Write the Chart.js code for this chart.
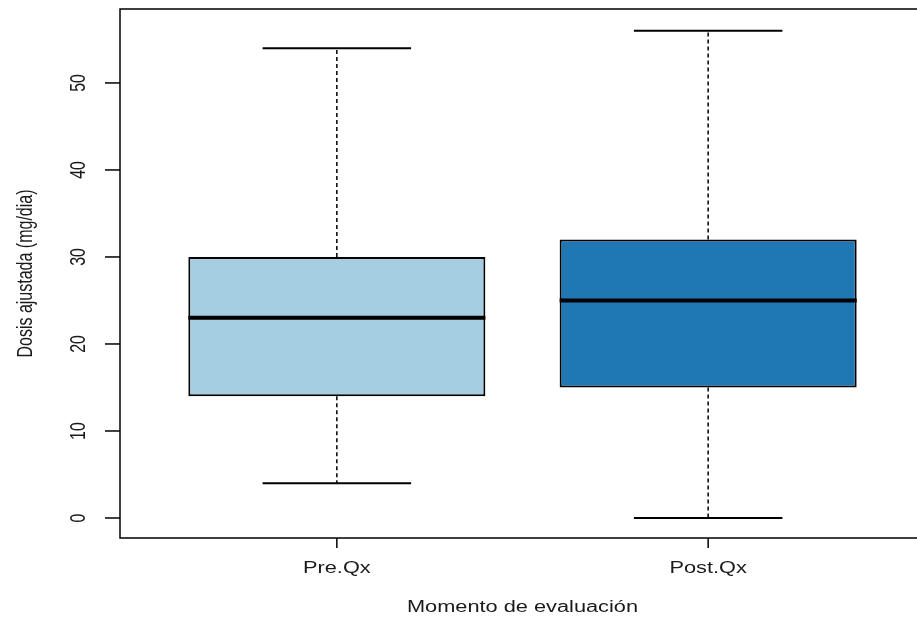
<!DOCTYPE html>
<html>
<head>
<meta charset="utf-8">
<script src="https://cdn.jsdelivr.net/npm/chart.js@4/dist/chart.umd.min.js"></script>
<style>
  html, body { margin: 0; padding: 0; background: #fff; overflow: hidden; }
  #wrap { width: 917px; height: 618px; overflow: hidden; }
</style>
</head>
<body>
<div id="wrap"><canvas id="box" width="940" height="618"></canvas></div>
<script>
// boxplot summary per group
const groups = ['Pre.Qx', 'Post.Qx'];
const whiskerLow = [4, 0];
const q1 = [14, 15];
const medians = [23, 25];
const q3 = [30, 32];
const whiskerHigh = [54, 56];
const boxColors = ['#A6CEE3', '#1F78B4'];
const yTicks = [0, 10, 20, 30, 40, 50];

const yTitle = 'Dosis ajustada (mg/dia)';
const xTitle = 'Momento de evaluación';
const font = '16px "Liberation Sans", Arial, sans-serif';
const stretch = 1.36; // the source picture is widened sideways

// R style: box width 0.8, staple width 0.4 of a category
const boxHalf = 0.4, capHalf = 0.2;

let medianPts = [], whiskerPts = [], capPts = [];
groups.forEach((g, i) => {
    const x = i + 1;
    medianPts.push({x: x - boxHalf, y: medians[i]}, {x: x + boxHalf, y: medians[i]}, {x: x + 0.5, y: null});
    whiskerPts.push({x: x, y: q3[i]}, {x: x, y: whiskerHigh[i]}, {x: x, y: null},
                    {x: x, y: q1[i]}, {x: x, y: whiskerLow[i]}, {x: x + 0.5, y: null});
    capPts.push({x: x - capHalf, y: whiskerHigh[i]}, {x: x + capHalf, y: whiskerHigh[i]}, {x: x + 0.5, y: null},
                {x: x - capHalf, y: whiskerLow[i]}, {x: x + capHalf, y: whiskerLow[i]}, {x: x + 0.5, y: null});
});

function label(ctx, text, x, y, rotated) {
    ctx.save();
    ctx.translate(x, y);
    ctx.scale(stretch, 1);
    if (rotated) ctx.rotate(-Math.PI / 2);
    ctx.fillText(text, 0, 0);
    ctx.restore();
}

// frame, ticks and labels the way base R draws them
const rAxes = {
    id: 'rAxes',
    afterDraw(chart) {
        const ctx = chart.ctx;
        const a = chart.chartArea;
        const xs = chart.scales.x, ys = chart.scales.y;
        ctx.save();
        ctx.strokeStyle = '#000';
        ctx.fillStyle = '#1a1a1a';
        ctx.lineWidth = 1.5;
        ctx.strokeRect(a.left, a.top, a.right - a.left, a.bottom - a.top);

        ctx.font = font;
        ctx.textAlign = 'center';
        ctx.textBaseline = 'middle';
        yTicks.forEach(v => {
            const y = ys.getPixelForValue(v);
            ctx.beginPath();
            ctx.moveTo(a.left - 15, y);
            ctx.lineTo(a.left, y);
            ctx.stroke();
            label(ctx, String(v), 79, y, true);
        });
        groups.forEach((g, i) => {
            const x = xs.getPixelForValue(i + 1);
            ctx.beginPath();
            ctx.moveTo(x, a.bottom);
            ctx.lineTo(x, a.bottom + 10);
            ctx.stroke();
            label(ctx, g, x, 569, false);
        });
        label(ctx, xTitle, (a.left + a.right) / 2, 608, false);
        label(ctx, yTitle, 26, (a.top + a.bottom) / 2, true);
        ctx.restore();
    }
};

new Chart(document.getElementById('box'), {
    data: {
        datasets: [
            {
                type: 'bar',
                data: groups.map((g, i) => ({x: i + 1, y: [q1[i], q3[i]]})),
                backgroundColor: boxColors,
                borderColor: '#000',
                borderWidth: 2,
                borderSkipped: false,
                barPercentage: 0.8,
                categoryPercentage: 1,
                order: 2
            },
            {
                type: 'line',
                data: medianPts,
                borderColor: '#000',
                borderWidth: 4,
                borderCapStyle: 'butt',
                pointRadius: 0,
                order: 1
            },
            {
                type: 'line',
                data: whiskerPts,
                borderColor: '#000',
                borderWidth: 1.5,
                borderDash: [4, 3],
                pointRadius: 0,
                order: 3
            },
            {
                type: 'line',
                data: capPts,
                borderColor: '#000',
                borderWidth: 2,
                pointRadius: 0,
                order: 3
            }
        ]
    },
    options: {
        responsive: false,
        animation: false,
        layout: {padding: {left: 120, top: 9, right: 15, bottom: 80}},
        plugins: {legend: {display: false}, tooltip: {enabled: false}},
        scales: {
            x: {
                type: 'linear',
                display: false,
                offset: false,
                min: 0.416,
                max: 2.584,
                afterBuildTicks: s => { s.ticks = groups.map((g, i) => ({value: i + 1})); }
            },
            y: {
                type: 'linear',
                display: false,
                min: -2.3,
                max: 58.5
            }
        }
    },
    plugins: [rAxes]
});
</script>
</body>
</html>
